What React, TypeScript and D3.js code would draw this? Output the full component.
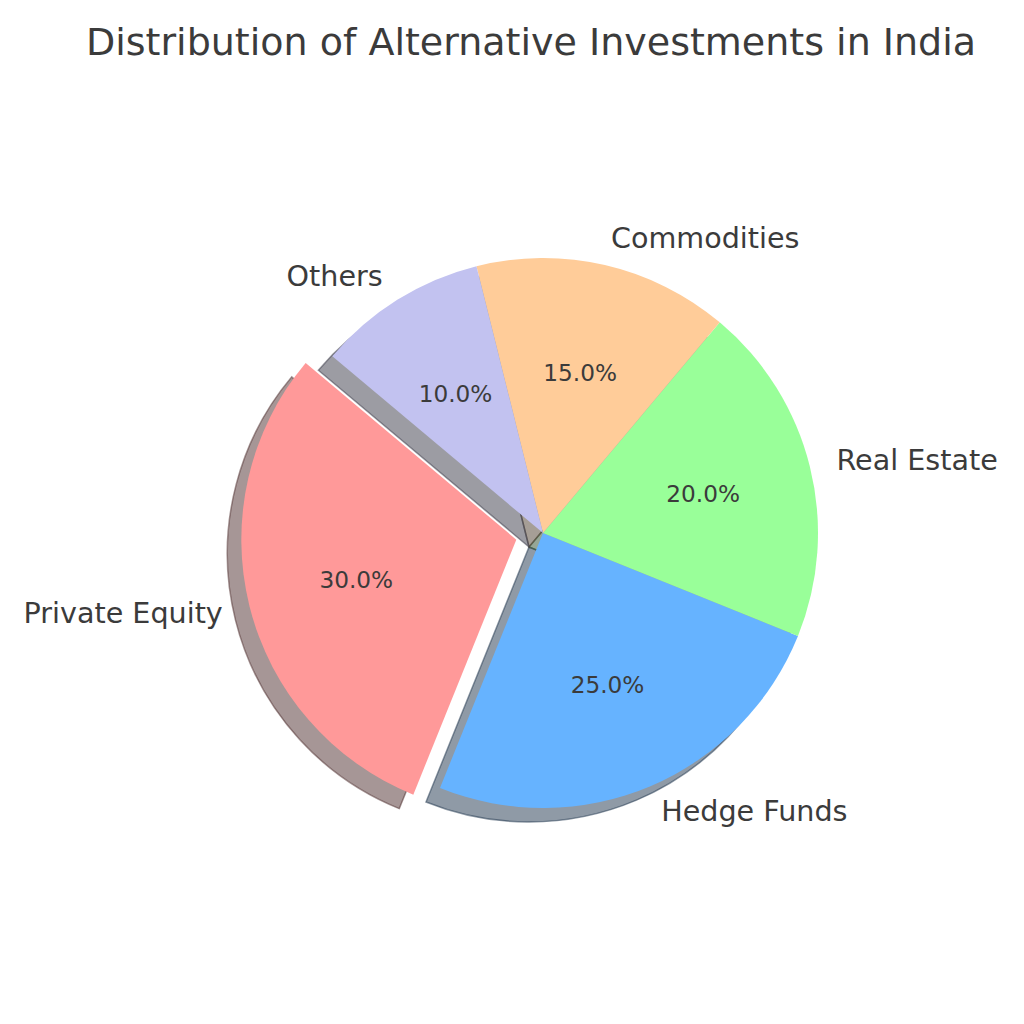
import React from "react";
import * as d3 from "d3";

// Shares of alternative investments (percent)
const categories = ["Private Equity", "Hedge Funds", "Real Estate", "Commodities", "Others"];
const shares = [30, 25, 20, 15, 10];
const colors = ["#ff9999", "#66b3ff", "#99ff99", "#ffcc99", "#c2c2f0"];
const explode = [0.1, 0, 0, 0, 0];
const title = "Distribution of Alternative Investments in India";

const W = 1024;
const H = 1024;
const cx = 543;
const cy = 533;
const R = 275;
const startDeg = 140; // counter-clockwise from 3 o'clock
const shadowDx = -14;
const shadowDy = 14;
const textColor = "#3b3b3b";
const font = "'DejaVu Sans', sans-serif";

function darken(hex: string): string {
  const c = d3.rgb(hex);
  return `rgba(${Math.round(c.r * 0.3)},${Math.round(c.g * 0.3)},${Math.round(c.b * 0.3)},0.5)`;
}

export default function App() {
  // d3 angles: 0 at 12 o'clock, clockwise; wedges run counter-clockwise
  const a0 = ((90 - startDeg) * Math.PI) / 180;
  const pie = d3
    .pie<number>()
    .sort(null)
    .startAngle(a0)
    .endAngle(a0 - 2 * Math.PI);
  const arcs = pie(shares);
  const arc = d3.arc<d3.PieArcDatum<number>>().innerRadius(0).outerRadius(R);

  const wedges = arcs.map((d, i) => {
    const mid = (d.startAngle + d.endAngle) / 2;
    const ux = Math.sin(mid);
    const uy = -Math.cos(mid);
    const ox = cx + explode[i] * R * ux;
    const oy = cy + explode[i] * R * uy;
    return { d, i, mid, ux, uy, ox, oy };
  });

  return (
    <svg width={W} height={H} style={{ display: "block", position: "absolute", left: 0, top: 0 }}>
      <rect width={W} height={H} fill="#ffffff" />
      <text
        x={531}
        y={42}
        textAnchor="middle"
        dominantBaseline="central"
        fontFamily={font}
        fontSize={38}
        fill={textColor}
      >
        {title}
      </text>
      {/* shadows under all wedges */}
      {wedges.map((w) => (
        <path
          key={"s" + w.i}
          d={arc(w.d) || ""}
          transform={`translate(${w.ox + shadowDx},${w.oy + shadowDy})`}
          fill={darken(colors[w.i])}
          stroke={darken(colors[w.i])}
          strokeWidth={1.5}
        />
      ))}
      {wedges.map((w) => (
        <path
          key={"w" + w.i}
          d={arc(w.d) || ""}
          transform={`translate(${w.ox},${w.oy})`}
          fill={colors[w.i]}
        />
      ))}
      {wedges.map((w) => {
        const lx = w.ox + 1.1 * R * w.ux;
        const ly = w.oy + 1.1 * R * w.uy;
        return (
          <text
            key={"l" + w.i}
            x={lx}
            y={ly}
            textAnchor={lx - cx > 0 ? "start" : "end"}
            dominantBaseline="central"
            fontFamily={font}
            fontSize={28.6}
            fill={textColor}
          >
            {categories[w.i]}
          </text>
        );
      })}
      {wedges.map((w) => (
        <text
          key={"p" + w.i}
          x={w.ox + 0.6 * R * w.ux}
          y={w.oy + 0.6 * R * w.uy}
          textAnchor="middle"
          dominantBaseline="central"
          fontFamily={font}
          fontSize={23.2}
          fill={textColor}
        >
          {`${shares[w.i].toFixed(1)}%`}
        </text>
      ))}
    </svg>
  );
}
